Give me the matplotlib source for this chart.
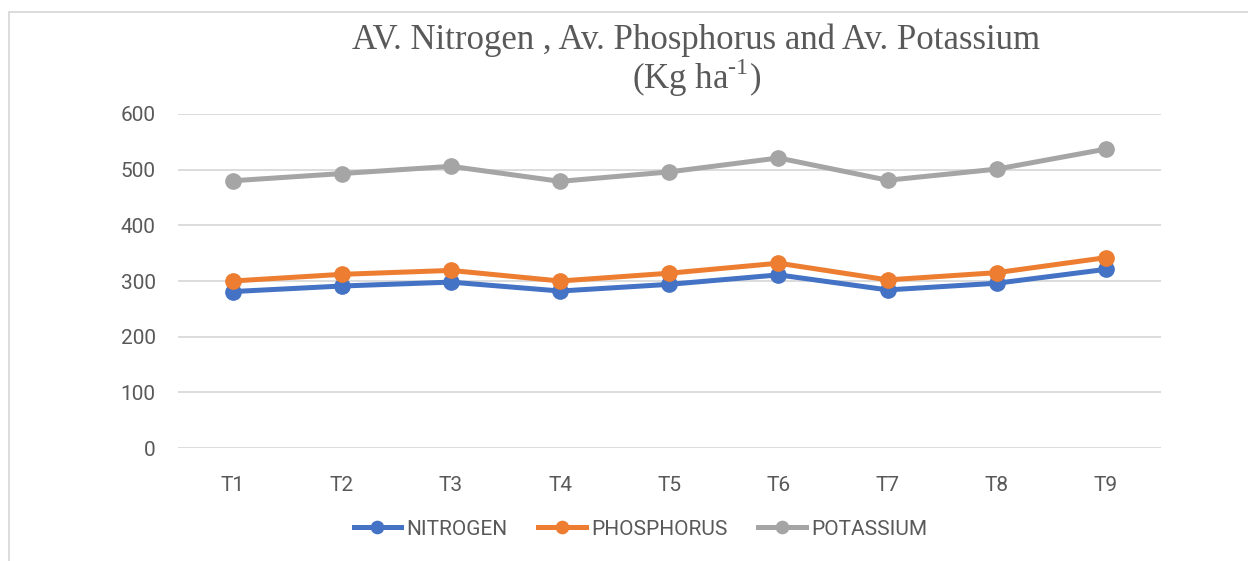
import matplotlib
matplotlib.use("Agg")
import matplotlib.pyplot as plt
from matplotlib.patches import Rectangle

# values (Kg ha-1)
treatments = ["T1", "T2", "T3", "T4", "T5", "T6", "T7", "T8", "T9"]
nitrogen = [281, 291, 298, 282, 294, 311, 284, 296, 321]
phosphorus = [300, 312, 319, 300, 314, 332, 302, 315, 342]
potassium = [480, 493, 506, 479, 496, 521, 481, 501, 537]
yticks = [0, 100, 200, 300, 400, 500, 600]

plt.rcParams['mathtext.fontset'] = 'custom'
plt.rcParams['mathtext.rm'] = 'Liberation Serif'

txt = '#595959'
grid = '#D9D9D9'

fig = plt.figure(figsize=(12.48, 5.61), dpi=100)
ax = fig.add_axes([0.1426, 0.2014, 0.930 - 0.1426, 0.7968 - 0.2014])

x = range(len(treatments))
ax.plot(x, nitrogen, color='#4472C4', lw=3.6, marker='o', ms=11, label='NITROGEN')
ax.plot(x, phosphorus, color='#ED7D31', lw=3.6, marker='o', ms=11, label='PHOSPHORUS')
ax.plot(x, potassium, color='#A5A5A5', lw=3.6, marker='o', ms=11, label='POTASSIUM')

ax.set_xlim(-0.5, len(treatments) - 0.5)
ax.set_ylim(0, 600)
ax.set_yticks(yticks)
ax.set_xticks(list(x))
ax.set_xticklabels(treatments)
ax.grid(axis='y', color=grid, lw=1.3)
ax.set_axisbelow(True)
for s in ax.spines.values():
    s.set_visible(False)
ax.tick_params(length=0, labelsize=15, colors=txt)
ax.tick_params(axis='y', pad=16)
ax.tick_params(axis='x', pad=20)
for lab in ax.get_xticklabels() + ax.get_yticklabels():
    lab.set_fontfamily('Roboto')

# title, two lines, serif
fig.text(0.558, 0.929, "AV. Nitrogen , Av. Phosphorus and Av. Potassium",
         ha='center', va='center', fontsize=25, family='Liberation Serif', color=txt)
fig.text(0.558, 0.861, r"(Kg ha$^{\text{-1}}$)",
         ha='center', va='center', fontsize=25, family='Liberation Serif', color=txt)

leg = fig.legend(loc='center', bbox_to_anchor=(0.513, 0.057), ncol=3, frameon=False,
                 prop={'family': 'Roboto', 'size': 15}, handlelength=2.3,
                 handletextpad=0.25, columnspacing=1.45, markerscale=0.8)
for t in leg.get_texts():
    t.set_color(txt)

# chart border (left and top visible in the reference)
fig.patches.append(Rectangle((9 / 1248, -0.05), 1.2, 1 - 12 / 561 + 0.05,
                             transform=fig.transFigure, fill=False,
                             edgecolor=grid, lw=1.3))

fig.savefig('out.png', dpi=100)
